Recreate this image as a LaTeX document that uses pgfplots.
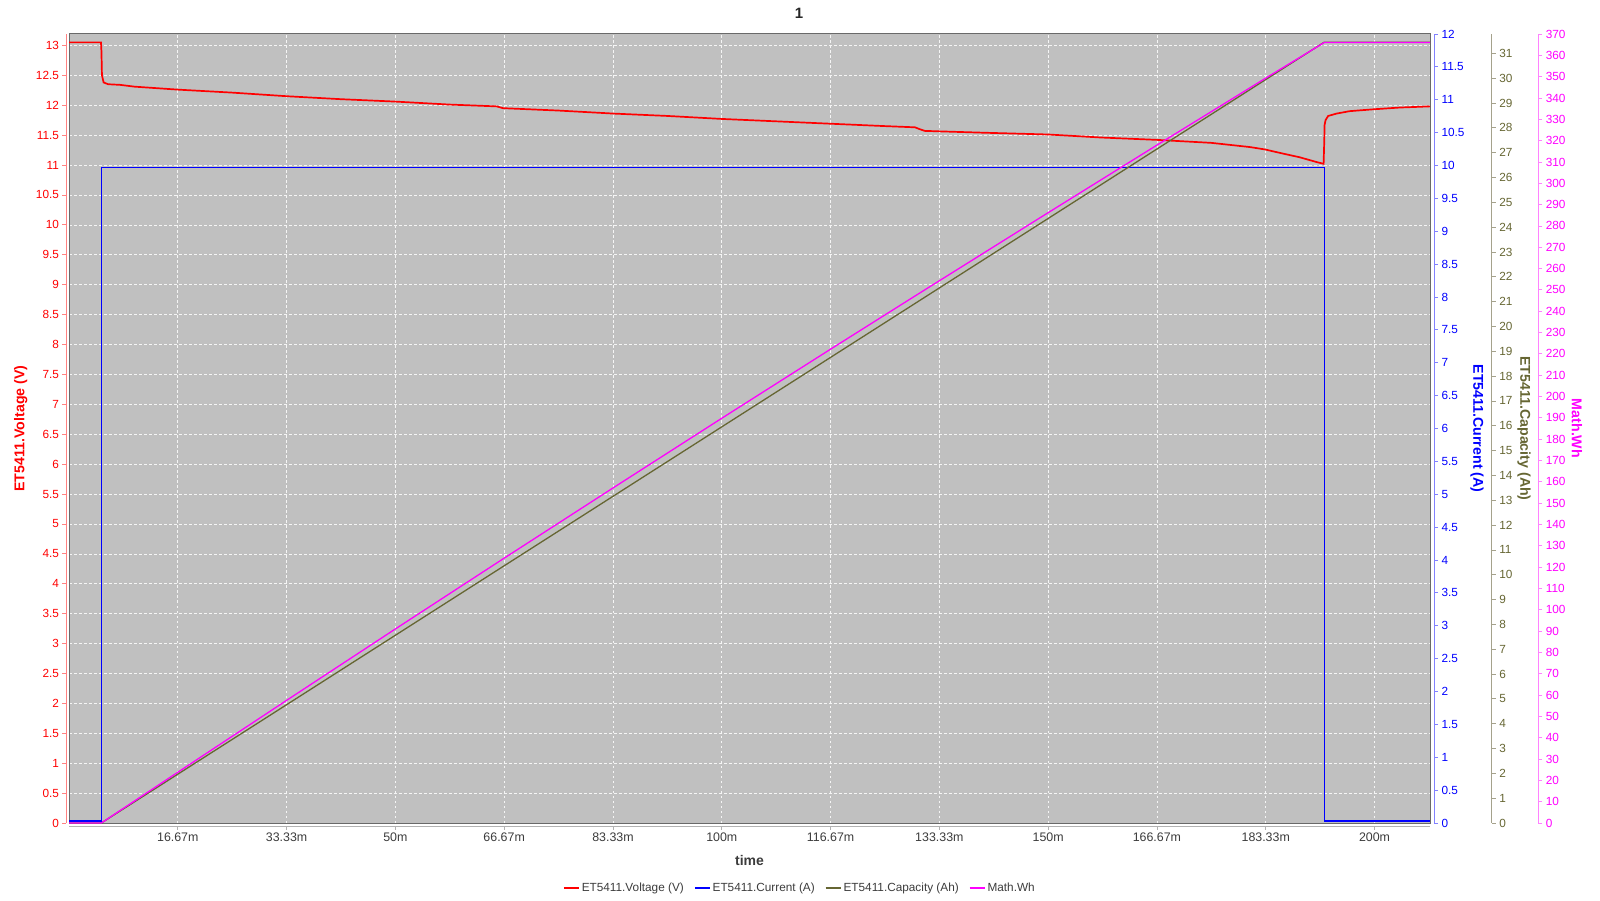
\documentclass[border=0pt]{standalone}
\usepackage{fontspec}
\setmainfont{Liberation Sans}
\usepackage{pgfplots}
\pgfplotsset{compat=1.18}
\definecolor{bggray}{RGB}{192,192,192}
\definecolor{olivecap}{RGB}{102,102,51}
\definecolor{olivecapaxis}{RGB}{165,162,140}
\definecolor{boxgray}{RGB}{105,105,105}
\definecolor{txtgray}{RGB}{60,60,60}
\definecolor{voltaxis}{RGB}{255,130,130}
\definecolor{curraxis}{RGB}{130,130,255}
\definecolor{whaxis}{RGB}{255,130,255}
\definecolor{mag}{RGB}{255,0,255}
\definecolor{vred}{RGB}{255,0,0}
\definecolor{cblue}{RGB}{0,0,255}
\tikzset{ylab/.style={font=\bfseries\fontsize{14.2}{16}\selectfont}}
\begin{document}
\begin{tikzpicture}[x=1pt,y=1pt]
\useasboundingbox (0,0) rectangle (1600,900);
\pgfplotsset{
  base/.style={scale only axis, width=1361pt, height=789pt, xmin=0, xmax=208.5,
    anchor=south west, /pgf/number format/assume math mode=true},
  yticks/.style={yticklabel style={font=\fontsize{11.8}{13}\selectfont}, tick align=outside, major tick length=4pt},
}
% ---------- main plot box with voltage ----------
\begin{axis}[base, at={(69pt,77pt)}, ymin=0, ymax=13.19,
  axis background/.style={fill=bggray},
  xtick={16.6667,33.3333,50,66.6667,83.3333,100,116.6667,133.3333,150,166.6667,183.3333,200},
  ytick={0,0.5,...,13},
  xticklabels={}, yticklabels={},
  major tick length=0pt,
  grid=major,
  major grid style={white!92!gray, line width=0.6pt, dash pattern=on 2.5pt off 2.5pt},
  axis line style={boxgray, line width=1pt},
  legend columns=4,
  legend style={at={(axis description cs:0.537,-0.082)}, anchor=center, draw=none, fill=none,
    font=\fontsize{11.8}{13}\selectfont, text=txtgray,
    /tikz/every even column/.append style={column sep=8pt}},
  legend image code/.code={\draw[#1] (0pt,0pt) -- (15pt,0pt);},
]
\addplot[vred, line width=1.7pt, forget plot] coordinates {
(0,13.05) (4.9,13.05) (4.97,12.9) (5.05,12.5) (5.3,12.38) (6,12.35) (7.8,12.34) (10,12.31)
(16.67,12.26) (25,12.21) (33.33,12.15) (41.67,12.10) (50,12.06) (58.33,12.01) (65.5,11.98)
(66.5,11.95) (75,11.91) (83.33,11.86) (91.67,11.82) (100,11.77) (108.33,11.73) (116.67,11.69)
(125,11.65) (129.6,11.63) (130.3,11.60) (131.1,11.57) (140,11.54) (150,11.51) (158,11.46)
(166.67,11.42) (175,11.37) (180.9,11.30) (183.2,11.26) (186,11.19) (188.5,11.13) (191.1,11.05)
(192.2,11.02) (192.3,11.40) (192.35,11.67) (192.5,11.75) (192.9,11.82) (194.2,11.86)
(196.2,11.90) (199.7,11.93) (203.8,11.96) (208.5,11.98)
};
\addlegendimage{vred, line width=1.8pt}
\addlegendentry{ET5411.Voltage (V)}
\addlegendimage{cblue, line width=1.8pt}
\addlegendentry{ET5411.Current (A)}
\addlegendimage{olivecap, line width=1.8pt}
\addlegendentry{ET5411.Capacity (Ah)}
\addlegendimage{mag, line width=1.8pt}
\addlegendentry{Math.Wh}
\end{axis}
% ---------- current data ----------
\begin{axis}[base, at={(69pt,77pt)}, ymin=0, ymax=12, hide axis]
\addplot[cblue, line width=1.3pt] coordinates {
(0,0.03) (4.95,0.03) (4.95,9.97) (192.3,9.97) (192.3,0.03) (208.5,0.03)
};
\end{axis}
% ---------- capacity data ----------
\begin{axis}[base, at={(69pt,77pt)}, ymin=0, ymax=31.78, hide axis]
\addplot[olivecap, line width=1.3pt] coordinates {
(0,0) (4.95,0) (192.3,31.45) (208.5,31.45)
};
\end{axis}
% ---------- Wh data ----------
\begin{axis}[base, at={(69pt,77pt)}, ymin=0, ymax=370, hide axis]
\addplot[mag, line width=1.3pt] coordinates {
(0,0) (4.95,0) (16.67,23.8) (33.33,57.5) (50,91.0) (66.67,124.2) (83.33,157.1) (100,189.8)
(116.67,222.2) (130,247.9) (150,286.2) (166.67,317.9) (183.33,349.3) (192.3,366) (208.5,366)
};
\end{axis}
% ---------- voltage axis (left) ----------
\begin{axis}[base, at={(66.5pt,77pt)}, ymin=0, ymax=13.19, axis x line=none, axis y line*=left,
  yticks, ytick={0,0.5,...,13},
  y axis line style={voltaxis, line width=0.8pt}, ytick style={voltaxis, line width=0.8pt},
  yticklabel style={text=vred},
  ylabel={ET5411.Voltage (V)},
  every axis y label/.style={at={(axis description cs:-0.0336,0.5)}, rotate=90, anchor=center, ylab, text=vred},
]
\end{axis}
% ---------- time axis (bottom) ----------
\begin{axis}[base, at={(69pt,73.5pt)}, ymin=0, ymax=1, axis y line=none, axis x line*=bottom,
  xtick={16.6667,33.3333,50,66.6667,83.3333,100,116.6667,133.3333,150,166.6667,183.3333,200},
  xticklabels={16.67m,33.33m,50m,66.67m,83.33m,100m,116.67m,133.33m,150m,166.67m,183.33m,200m},
  x axis line style={gray!60, line width=0.8pt}, xtick style={gray!60, line width=0.8pt},
  tick align=outside, major tick length=3pt,
  xticklabel style={font=\fontsize{12.4}{14}\selectfont, text=txtgray},
  xlabel={time},
  every axis x label/.style={at={(axis description cs:0.5,-0.0435)}, anchor=center,
    font=\bfseries\fontsize{14}{16}\selectfont, text=txtgray},
]
\end{axis}
% ---------- current axis ----------
\begin{axis}[base, at={(73pt,77pt)}, ymin=0, ymax=12, axis x line=none, axis y line*=right,
  yticks, ytick={0,0.5,...,12},
  y axis line style={curraxis, line width=0.8pt}, ytick style={curraxis, line width=0.8pt},
  yticklabel style={text=cblue},
  ylabel={ET5411.Current (A)},
  every axis y label/.style={at={(axis description cs:1.0316,0.5)}, rotate=-90, anchor=center, ylab, text=cblue},
]
\end{axis}
% ---------- capacity axis ----------
\begin{axis}[base, at={(130.7pt,77pt)}, ymin=0, ymax=31.78, axis x line=none, axis y line*=right,
  yticks, ytick={0,1,...,31},
  y axis line style={olivecapaxis, line width=0.8pt}, ytick style={olivecapaxis, line width=0.8pt},
  yticklabel style={text=olivecap},
  ylabel={ET5411.Capacity (Ah)},
  every axis y label/.style={at={(axis description cs:1.0237,0.5)}, rotate=-90, anchor=center, ylab, text=olivecap},
]
\end{axis}
% ---------- Wh axis ----------
\begin{axis}[base, at={(177.3pt,77pt)}, ymin=0, ymax=370, axis x line=none, axis y line*=right,
  yticks, ytick={0,10,...,370},
  y axis line style={whaxis, line width=0.8pt}, ytick style={whaxis, line width=0.8pt},
  yticklabel style={text=mag},
  ylabel={Math.Wh},
  every axis y label/.style={at={(axis description cs:1.0284,0.5)}, rotate=-90, anchor=center, ylab, text=mag},
]
\end{axis}
\node[font=\bfseries\fontsize{15}{17}\selectfont, text=black!85] at (799,886.2) {1};
\end{tikzpicture}
\end{document}
